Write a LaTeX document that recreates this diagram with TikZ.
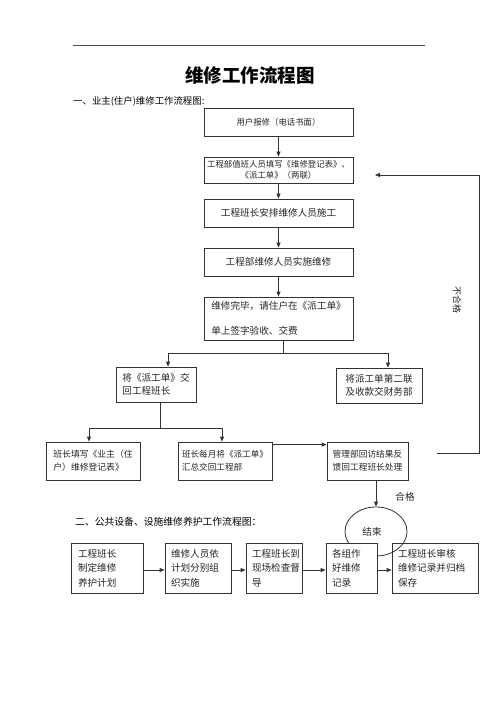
\documentclass[tikz,border=0pt]{standalone}
\usepackage{fontspec}
\setmainfont{Noto Sans CJK SC}
\usetikzlibrary{arrows.meta,shapes.geometric}

\begin{document}
\begin{tikzpicture}[x=1pt, y=-1pt,
  box/.style={draw=black!80, line width=0.8pt, fill=white, inner sep=2pt, align=center, text=black!85},
  step box/.style={box, align=left, inner xsep=6pt, minimum height=50pt, font=\fontsize{9.6}{14.5}\selectfont},
  flow/.style={draw=black!80, line width=0.8pt, -{Triangle[length=5pt,width=4pt]}},
  link/.style={draw=black!80, line width=0.8pt},
  small/.style={font=\fontsize{8.4}{11}\selectfont},
  mid/.style={font=\fontsize{9.6}{14.5}\selectfont}]
\useasboundingbox (0,0) rectangle (500,708);
\draw[black!70, line width=0.6pt] (73,45) -- (425,45);
\node[font=\tiny, text=black!50] (dot1) at (425,40) {.};
\node[font=\tiny, text=black!50] (dot2) at (77,660) {.};
\node[font=\bfseries\fontsize{18.5}{20}\selectfont] (title) at (250,75) {维修工作流程图};
\node[anchor=west, inner sep=0pt, font=\fontsize{9.4}{11}\selectfont] (head1) at (73,101) {一、业主(住户)维修工作流程图:};

\node[box, small, minimum width=149pt, minimum height=28pt] (report) at (278.5,122) {用户报修（电话书面）};
\node[box, small, minimum width=149pt, minimum height=26pt] (record) at (278.5,170) {工程部值班人员填写《维修登记表》、\\《派工单》（两联）};
\node[box, mid, minimum width=149pt, minimum height=28pt] (assign) at (278.5,213) {工程班长安排维修人员施工};
\node[box, mid, minimum width=149pt, minimum height=28pt] (repair) at (278.5,262) {工程部维修人员实施维修};
\node[box, mid, align=left, minimum width=149pt, minimum height=43pt] (sign) at (278.5,318.5) {维修完毕，请住户在《派工单》\\[10pt]单上签字验收、交费};
\node[box, mid, align=left, font=\fontsize{9.6}{13.5}\selectfont, minimum width=80pt, minimum height=35pt] (returned) at (156,384.5) {将《派工单》交\\回工程班长};
\node[box, mid, font=\fontsize{9.6}{13.5}\selectfont, minimum width=86pt, minimum height=35pt] (finance) at (379,385.5) {将派工单第二联\\及收款交财务部};
\node[box, align=left, font=\fontsize{8.8}{13}\selectfont, minimum width=94pt, minimum height=38pt] (ledger) at (93,461) {班长填写《业主（住\\户）维修登记表》};
\node[box, align=left, font=\fontsize{8.6}{13}\selectfont, minimum width=94pt, minimum height=38pt] (monthly) at (225,461) {班长每月将《派工单》\\汇总交回工程部};
\node[box, align=left, font=\fontsize{8.7}{13}\selectfont, minimum width=81pt, minimum height=38pt] (visit) at (367.5,461) {管理部回访结果反\\馈回工程班长处理};

\draw[flow] (report) -- (record);
\draw[flow] (record) -- (assign);
\draw[flow] (assign) -- (repair);
\draw[flow] (repair) -- (sign);
\coordinate (split1) at (283,353);
\draw[link] (sign.south -| split1) -- (split1);
\draw[flow] (split1) -| ([xshift=12pt]returned.north);
\draw[flow] (split1) -| ([xshift=9pt]finance.north);
\coordinate (split2) at (160,428);
\draw[link] (returned.south -| split2) -- (split2);
\draw[flow] (split2) -| ([xshift=-4pt]ledger.north);
\draw[flow] (split2) -| ([xshift=-3pt]monthly.north);
\draw[flow] ([yshift=-3pt]monthly.north east) -- ([yshift=-3pt]visit.north west);

\coordinate (fail) at (437,453);
\coordinate (back) at (375,175);
\draw[flow] (fail) -| (479,175) -- (back);
\node[rotate=-90, text=black!85, font=\fontsize{9}{11}\selectfont] (nogood) at (457,300) {不合格};

\node[anchor=west, inner sep=0pt, font=\fontsize{9.8}{11}\selectfont] (head2) at (75,522) {二、公共设备、设施维修养护工作流程图：};

\node[step box, text width=74pt] (archive) at (435,568) {工程班长审核\\维修记录并归档\\保存};
\node[ellipse, draw=black!80, line width=0.8pt, minimum width=62pt, minimum height=49pt, inner sep=0pt] (end) at (376,531.5) {};
\node[text=black!85, font=\fontsize{9.6}{11}\selectfont] (endtext) at (372,532) {结束};
\node[step box, text width=58pt, inner xsep=7pt] (plan) at (107,568) {工程班长\\制定维修\\养护计划};
\node[step box, text width=54pt] (carry) at (198,568) {维修人员依\\计划分别组\\织实施};
\node[step box, text width=44pt] (inspect) at (274,568) {工程班长到\\现场检查督\\导};
\node[step box, text width=39pt] (log) at (351.5,568) {各组作\\好维修\\记录};

\draw[flow] (end.north |- visit.south) -- (end.north);
\node[text=black!85, font=\fontsize{9.6}{11}\selectfont] (good) at (405,497) {合格};

\draw[flow] ([yshift=-2pt]plan.east) -- ([yshift=-2pt]carry.west);
\draw[flow] ([yshift=-2pt]carry.east) -- ([yshift=-2pt]inspect.west);
\draw[flow] ([yshift=-2pt]inspect.east) -- ([yshift=-2pt]log.west);
\draw[flow] ([yshift=-2pt]log.east) -- ([yshift=-2pt]archive.west);
\end{tikzpicture}
\end{document}
